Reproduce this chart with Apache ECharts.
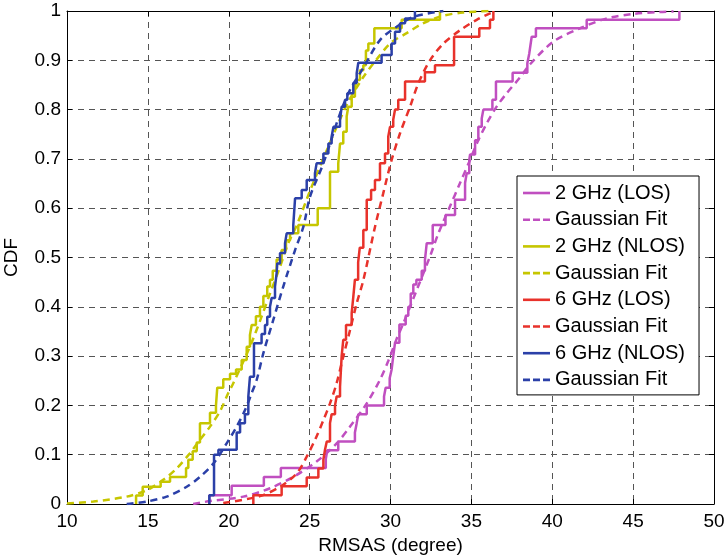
<!DOCTYPE html>
<html>
<head>
<meta charset="utf-8">
<script src="https://cdn.jsdelivr.net/npm/echarts@6/dist/echarts.min.js"></script>
<style>
  html, body { margin: 0; padding: 0; background: #fff; }
  #main { width: 727px; height: 557px; }
</style>
</head>
<body>
<div id="main"></div>
<script>
// x ticks and y ticks
const xTicks = [10, 15, 20, 25, 30, 35, 40, 45, 50]
const yTicks = [0, 0.1, 0.2, 0.3, 0.4, 0.5, 0.6, 0.7, 0.8, 0.9, 1]

// empirical CDFs, [RMSAS, CDF] at each jump
const los2Steps = [[18.8,0],[18.8,0.018],[20.18,0.037],[22.17,0.055],[23.22,0.073],[26.0,0.091],[26.09,0.109],[26.77,0.127],[27.8,0.145],[27.91,0.164],[28.01,0.182],[28.53,0.2],[29.6,0.218],[29.7,0.236],[29.95,0.255],[30.07,0.273],[30.17,0.3],[30.28,0.327],[30.55,0.364],[30.94,0.382],[31.1,0.4],[31.25,0.427],[31.41,0.445],[31.6,0.455],[31.93,0.473],[32.13,0.495],[32.24,0.529],[32.61,0.566],[33.4,0.586],[33.99,0.617],[34.61,0.651],[34.71,0.671],[34.87,0.698],[34.92,0.709],[35.23,0.738],[35.43,0.765],[35.64,0.782],[35.74,0.8],[36.3,0.82],[36.52,0.857],[37.55,0.875],[38.46,0.894],[38.58,0.914],[38.65,0.93],[38.73,0.948],[38.99,0.965],[42.13,0.982],[47.86,1.0]]
const nlos2Steps = [[14.27,0],[14.27,0.017],[14.68,0.035],[15.79,0.045],[16.37,0.055],[17.36,0.073],[17.5,0.09],[17.77,0.107],[18.02,0.125],[18.22,0.164],[18.84,0.185],[19.21,0.2],[19.29,0.236],[19.66,0.253],[20.08,0.264],[20.45,0.273],[20.8,0.292],[21.11,0.319],[21.31,0.343],[21.42,0.363],[21.68,0.381],[21.93,0.4],[22.14,0.422],[22.38,0.441],[22.55,0.455],[22.72,0.473],[22.96,0.496],[23.27,0.515],[23.54,0.535],[23.79,0.549],[24.3,0.566],[25.5,0.6],[26.26,0.674],[26.77,0.691],[26.88,0.731],[27.08,0.755],[27.29,0.786],[27.39,0.806],[27.6,0.826],[27.8,0.846],[27.91,0.86],[28.11,0.88],[28.32,0.89],[28.48,0.92],[28.63,0.934],[29.0,0.965],[30.69,0.982],[33.06,1.0]]
const los6Steps = [[21.52,0],[21.52,0.018],[23.27,0.036],[24.82,0.054],[25.54,0.072],[25.85,0.09],[25.95,0.11],[26.06,0.127],[26.26,0.164],[26.36,0.182],[26.57,0.2],[26.67,0.218],[26.88,0.238],[26.98,0.3],[27.08,0.333],[27.25,0.363],[27.6,0.387],[27.7,0.42],[27.8,0.455],[28.0,0.49],[28.1,0.52],[28.32,0.556],[28.53,0.617],[28.8,0.637],[29.04,0.657],[29.35,0.691],[29.66,0.711],[29.86,0.745],[29.97,0.765],[30.17,0.78],[30.28,0.8],[30.48,0.82],[30.9,0.857],[32.13,0.876],[32.75,0.89],[33.93,0.948],[35.49,0.965],[36.15,0.982],[36.36,1.0]]
const nlos6Steps = [[18.8,0],[18.8,0.018],[19.09,0.1],[19.36,0.11],[20.49,0.145],[20.7,0.164],[21.0,0.182],[21.21,0.218],[21.31,0.258],[21.56,0.326],[22.03,0.345],[22.24,0.363],[22.38,0.38],[22.55,0.4],[22.65,0.418],[22.86,0.441],[22.96,0.468],[23.0,0.488],[23.17,0.509],[23.48,0.529],[23.58,0.549],[23.99,0.566],[24.1,0.62],[24.51,0.637],[24.82,0.657],[25.33,0.671],[25.43,0.691],[25.85,0.711],[26.16,0.731],[26.36,0.745],[26.47,0.765],[26.88,0.779],[26.98,0.806],[27.19,0.82],[27.33,0.833],[27.7,0.854],[27.91,0.874],[28.01,0.895],[29.45,0.911],[30.07,0.934],[30.28,0.958],[30.59,0.975],[30.9,0.985],[31.51,1.0]]

// gaussian fits
const los2Fit = [[17.8,0],[18.84,0.006],[20.9,0.015],[22.55,0.032],[23.99,0.055],[25.43,0.086],[26.67,0.123],[27.5,0.157],[28.53,0.204],[29.35,0.252],[29.86,0.29],[30.38,0.335],[30.79,0.366],[31.62,0.434],[32.44,0.502],[32.96,0.549],[33.68,0.604],[34.3,0.651],[34.92,0.698],[35.33,0.731],[35.95,0.772],[36.56,0.806],[37.18,0.833],[38.0,0.865],[38.63,0.892],[40.07,0.938],[41.72,0.965],[43.37,0.985],[45.0,0.994],[46.66,0.998],[47.5,0.999]]
const nlos2Fit = [[10,0.001],[11.63,0.005],[13.69,0.015],[14.93,0.028],[15.95,0.049],[16.78,0.072],[17.6,0.103],[18.22,0.13],[18.84,0.157],[19.46,0.188],[19.97,0.225],[20.28,0.245],[21.31,0.319],[22.03,0.38],[22.55,0.427],[23.17,0.481],[23.68,0.529],[24.2,0.565],[25.02,0.635],[25.9,0.705],[27.3,0.81],[28.3,0.865],[29.1,0.9],[30.0,0.935],[31.0,0.955],[32.0,0.975],[33.2,0.99],[34.5,0.997],[36.15,1.0]]
const los6Fit = [[19.66,0.002],[21.93,0.016],[23.17,0.035],[24.2,0.062],[24.82,0.096],[25.43,0.137],[25.85,0.17],[26.26,0.204],[26.67,0.245],[27.08,0.299],[27.5,0.353],[27.91,0.407],[28.32,0.454],[29.04,0.562],[29.55,0.63],[30.07,0.698],[30.59,0.752],[31.21,0.806],[31.72,0.853],[32.44,0.9],[33.27,0.934],[34.3,0.961],[35.33,0.982],[36.15,0.995],[36.4,0.997]]
const nlos6Fit = [[13.69,0],[14.93,0.005],[16.16,0.015],[17.4,0.035],[18.22,0.055],[19.05,0.082],[19.87,0.123],[20.49,0.157],[21.0,0.19],[21.42,0.225],[21.73,0.252],[22.14,0.306],[22.75,0.373],[23.37,0.441],[24.1,0.515],[24.61,0.562],[25.02,0.623],[25.85,0.691],[26.88,0.792],[27.5,0.84],[28.32,0.885],[29.35,0.941],[30.38,0.968],[31.41,0.988],[33.27,1.0]]

const font = 'Liberation Sans, Arial, Helvetica, sans-serif'
const pink = '#c04fc0', yellow = '#c6c600', red = '#e8322b', blue = '#2b40a8'

// legend glyphs: a plain bar for the data, three dashes for the fits
const solidIcon = 'path://M0,0H27V2.6H0Z'
const dashIcon = 'path://M0,0H7V2.6H0Z M10,0H17V2.6H10Z M20,0H27V2.6H20Z'

function stepLine(name, data, color) {
  return {
    name: name, type: 'line', step: 'end', data: data,
    symbol: 'none', lineStyle: { color: color, width: 2.5, type: 'solid' },
    itemStyle: { color: color }
  }
}
function fitLine(name, data, color) {
  return {
    name: name, type: 'line', smooth: 0.3, data: data,
    symbol: 'none', lineStyle: { color: color, width: 2.5, type: [7, 5] },
    itemStyle: { color: color }
  }
}

let series = [
  stepLine('2 GHz (LOS)', los2Steps, pink),
  fitLine('Gaussian Fit (2 GHz LOS)', los2Fit, pink),
  stepLine('2 GHz (NLOS)', nlos2Steps, yellow),
  fitLine('Gaussian Fit (2 GHz NLOS)', nlos2Fit, yellow),
  stepLine('6 GHz (LOS)', los6Steps, red),
  fitLine('Gaussian Fit (6 GHz LOS)', los6Fit, red),
  stepLine('6 GHz (NLOS)', nlos6Steps, blue),
  fitLine('Gaussian Fit (6 GHz NLOS)', nlos6Fit, blue)
]

let chart = echarts.init(document.getElementById('main'))
let option = {
  animation: false,
  textStyle: { fontFamily: font },
  grid: { left: 67, right: 13, top: 11, bottom: 53, containLabel: false, outerBoundsMode: 'none' },
  legend: {
    left: 517, top: 176,
    orient: 'vertical',
    backgroundColor: '#fff', borderColor: '#000', borderWidth: 1,
    padding: [7, 14, 5, 6],
    itemWidth: 27, itemHeight: 2.6, itemGap: 6.7,
    selectedMode: false,
    data: series.map(s => ({
      name: s.name,
      icon: s.step ? solidIcon : dashIcon,
      itemStyle: { color: s.lineStyle.color }
    })),
    textStyle: { fontSize: 20, lineHeight: 20, color: '#000', fontFamily: font },
    formatter: function (name) { return name.indexOf('Gaussian Fit') === 0 ? 'Gaussian Fit' : name }
  },
  xAxis: [{
    type: 'value', min: xTicks[0], max: xTicks[xTicks.length - 1], interval: 5,
    name: 'RMSAS (degree)', nameLocation: 'middle', nameGap: 31,
    nameTextStyle: { fontSize: 19, color: '#000', fontFamily: font },
    axisLine: { lineStyle: { color: '#000', width: 1 } },
    axisTick: { inside: true, length: 5, lineStyle: { color: '#000' } },
    axisLabel: { fontSize: 19, color: '#000', margin: 8, fontFamily: font },
    splitLine: { show: true, lineStyle: { color: '#555', type: [6, 5], width: 1 } }
  }, {
    type: 'value', position: 'top', min: xTicks[0], max: xTicks[xTicks.length - 1], interval: 5,
    axisLine: { onZero: false, lineStyle: { color: '#000', width: 1 } },
    axisTick: { inside: true, length: 5, lineStyle: { color: '#000' } },
    axisLabel: { show: false }, splitLine: { show: false }
  }],
  yAxis: [{
    type: 'value', min: yTicks[0], max: yTicks[yTicks.length - 1], interval: 0.1,
    name: 'CDF', nameLocation: 'middle', nameGap: 46,
    nameTextStyle: { fontSize: 19, color: '#000', fontFamily: font },
    axisLine: { show: true, lineStyle: { color: '#000', width: 1 } },
    axisTick: { show: true, inside: true, length: 5, lineStyle: { color: '#000' } },
    axisLabel: { fontSize: 19, color: '#000', margin: 6, fontFamily: font },
    splitLine: { show: true, lineStyle: { color: '#555', type: [6, 5], width: 1 } }
  }, {
    type: 'value', position: 'right', min: yTicks[0], max: yTicks[yTicks.length - 1], interval: 0.1,
    axisLine: { show: true, onZero: false, lineStyle: { color: '#000', width: 1 } },
    axisTick: { show: true, inside: true, length: 5, lineStyle: { color: '#000' } },
    axisLabel: { show: false }, splitLine: { show: false }
  }],
  series: series
}
option && chart.setOption(option)
</script>
</body>
</html>
